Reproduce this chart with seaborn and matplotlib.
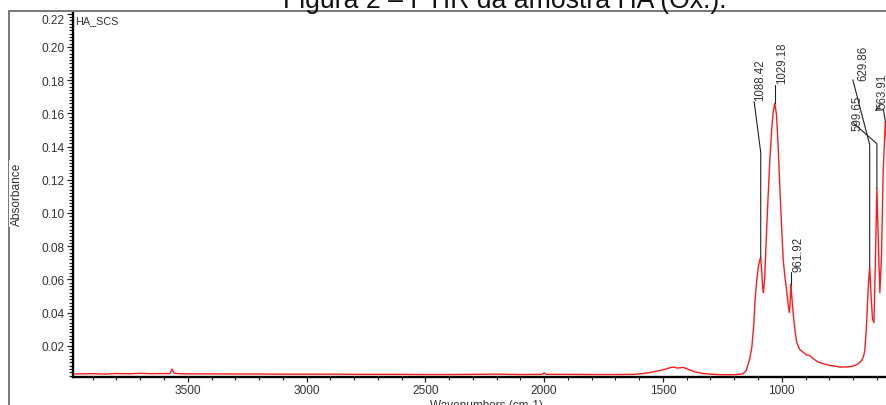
import numpy as np
import pandas as pd
import seaborn as sns
import matplotlib
matplotlib.use('Agg')
import matplotlib.pyplot as plt
from matplotlib.patches import Rectangle
from matplotlib.ticker import MultipleLocator, FormatStrFormatter

# FTIR spectrum (wavenumber in cm-1, absorbance)
WAVENUMBERS = [3983, 3950, 3900, 3850, 3800, 3750, 3700, 3650, 3600, 3575, 3566, 3558, 3540,
               3500, 3400, 3300, 3200, 3100, 3000, 2900, 2800, 2700, 2600, 2500, 2400, 2300,
               2200, 2100, 2010, 2000, 1990, 1900, 1800, 1700, 1620, 1560, 1500, 1470, 1455,
               1440, 1425, 1415, 1400, 1370, 1340, 1300, 1250, 1200, 1165, 1150, 1135, 1126,
               1118, 1112, 1105, 1098, 1092, 1088.42, 1084, 1080, 1077, 1072, 1065, 1058, 1050,
               1042, 1036, 1029.18, 1022, 1015, 1007, 1000, 994, 987, 980, 974, 968, 965,
               961.92, 958, 951, 944, 937, 925, 910, 895, 881, 870, 850, 826, 800, 780, 755,
               730, 700, 680, 664, 655, 650, 645, 640, 636, 629.86, 624, 618, 612, 606,
               599.65, 593, 587, 580, 573, 563.91, 557]
ABSORBANCE = [0.0030, 0.0031, 0.0032, 0.0030, 0.0033, 0.0031, 0.0034, 0.0032, 0.0033, 0.0032,
              0.0060, 0.0036, 0.0032, 0.0031, 0.0031, 0.0030, 0.0030, 0.0029, 0.0029, 0.0029,
              0.0028, 0.0028, 0.0028, 0.0027, 0.0027, 0.0028, 0.0029, 0.0027, 0.0028, 0.0036,
              0.0028, 0.0028, 0.0027, 0.0027, 0.0028, 0.0037, 0.0055, 0.0068, 0.0072, 0.0066,
              0.0068, 0.0070, 0.0062, 0.0045, 0.0035, 0.0029, 0.0026, 0.0026, 0.0030, 0.0050,
              0.012, 0.019, 0.032, 0.048, 0.060, 0.068, 0.072, 0.073, 0.064, 0.055, 0.052,
              0.060, 0.085, 0.108, 0.132, 0.151, 0.161, 0.166, 0.159, 0.140, 0.112, 0.090,
              0.072, 0.062, 0.054, 0.046, 0.040, 0.045, 0.057, 0.050, 0.038, 0.029, 0.022,
              0.018, 0.016, 0.0145, 0.014, 0.0125, 0.0105, 0.0092, 0.0083, 0.0078, 0.0072,
              0.0072, 0.0077, 0.0090, 0.011, 0.014, 0.018, 0.028, 0.042, 0.055, 0.068, 0.050,
              0.036, 0.034, 0.070, 0.115, 0.080, 0.052, 0.075, 0.125, 0.155, 0.140]

PEAK_LABELS = ['1088.42', '1029.18', '961.92', '629.86', '599.65', '563.91']
PEAK_WAVENUMBERS = [1088.42, 1029.18, 961.92, 629.86, 599.65, 563.91]

TITLE = 'Figura 2 – FTIR da amostra HA (Ox.).'
SAMPLE_NAME = 'HA_SCS'
X_LABEL = 'Wavenumbers (cm-1)'
Y_LABEL = 'Absorbance'

# label layout: (text x, text bottom y, leader path after the peak point)
PEAK_LAYOUT = [
    (1091, 0.168, [(1088.42, 0.1363), (1116, 0.167)]),
    (999, 0.1784, [(1029.18, 0.1772)]),
    (930, 0.0649, [(961.92, 0.0643)]),
    (656, 0.180, [(629.86, 0.1411), (701, 0.1802)]),
    (682, 0.150, [(599.65, 0.1417), (701, 0.1544)]),
    (578, 0.1634, [(572, 0.1622), (605, 0.1618), (588, 0.1652)]),
]

sns.set_style('ticks')
plt.rcParams['font.family'] = ['Liberation Sans', 'DejaVu Sans']

fig = plt.figure(figsize=(8.87, 4.06), dpi=100)
ax = fig.add_axes([73 / 887, 1 - 378 / 406, 814 / 887, 364 / 406])

df = pd.DataFrame({'wn': WAVENUMBERS, 'abs': ABSORBANCE})
sns.lineplot(data=df, x='wn', y='abs', color='#ff1a1a', lw=1.0, ax=ax, sort=False)

ax.set_xlim(3983, 557)
ax.set_ylim(0.0012, 0.2204)
ax.set_xlabel('')
ax.set_ylabel('')

ax.xaxis.set_major_locator(MultipleLocator(500))
ax.xaxis.set_minor_locator(MultipleLocator(100))
ax.xaxis.set_major_formatter(FormatStrFormatter('%d'))
ax.yaxis.set_major_locator(MultipleLocator(0.02))
ax.yaxis.set_minor_locator(MultipleLocator(0.002))
ax.yaxis.set_major_formatter(FormatStrFormatter('%.2f'))

ax.tick_params(which='major', direction='out', length=4.2, width=0.9, colors='#222',
               labelsize=8.6, labelcolor='#333', pad=2)
ax.tick_params(which='minor', direction='out', length=2.8, width=0.8, colors='#222')
ax.tick_params(axis='x', which='major', length=3.6, pad=1.5)
ax.tick_params(axis='x', which='minor', length=2.4)

for side in ['top', 'right']:
    ax.spines[side].set_visible(False)
for side in ['left', 'bottom']:
    ax.spines[side].set_linewidth(1.7)
    ax.spines[side].set_color('black')

# peak labels with leader lines
xy_lookup = dict(zip(WAVENUMBERS, ABSORBANCE))
for label, wn, (tx, ty, path) in zip(PEAK_LABELS, PEAK_WAVENUMBERS, PEAK_LAYOUT):
    pts = [(wn, xy_lookup[wn])] + path
    xs, ys = zip(*pts)
    ax.plot(xs, ys, color='#222', lw=0.8, clip_on=False)
    ax.text(tx, ty, label, rotation=90, ha='center', va='bottom', fontsize=8.3, color='#333')

ax.text(75 / 887, 1 - 20.7 / 406, SAMPLE_NAME, transform=fig.transFigure, ha='left',
        va='center', fontsize=7.8, color='#333')

# outer frame and captions
fig.add_artist(Rectangle((9 / 887, -0.1), 1.2, 0.1 + (1 - 12 / 406), transform=fig.transFigure,
                         fill=False, edgecolor='#777', lw=1.4, clip_on=False))
fig.text(505 / 887, 1 - 8 / 406, TITLE, ha='center', va='baseline', fontsize=19.2, color='#111')
fig.text(16.7 / 887, 1 - 194.5 / 406, Y_LABEL, rotation=90, ha='center', va='center',
         fontsize=8.6, color='#333', bbox=dict(facecolor='white', edgecolor='none', pad=1.5))
fig.text(486.5 / 887, 1 - 400 / 406, X_LABEL, ha='center', va='top', fontsize=8.5, color='#333')

fig.canvas.draw()
for lbl in ax.get_yticklabels():
    if lbl.get_text() == '0.22':
        lbl.set_verticalalignment('top')

fig.savefig('out.png', dpi=100)
